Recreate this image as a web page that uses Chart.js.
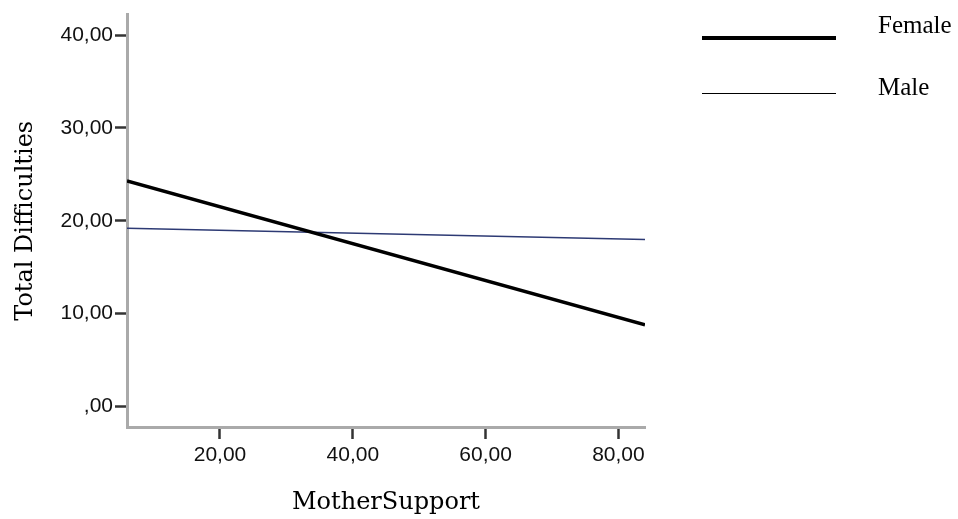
<!DOCTYPE html>
<html>
<head>
<meta charset="utf-8">
<script src="https://cdn.jsdelivr.net/npm/chart.js@4"></script>
<style>
  html, body { margin: 0; padding: 0; background: #fff; }
  #wrap { width: 958px; height: 519px; }
</style>
</head>
<body>
<div id="wrap"><canvas id="chart" width="958" height="519"></canvas></div>
<script>
// ================= DATA =================
var motherSupport = [6, 84];
var femaleData = [24.3, 8.8];
var maleData = [19.2, 18.0];
var xTicks = [20, 40, 60, 80];
var yTicks = [0, 10, 20, 30, 40];

// ================= FORMAT "40,00" / ",00" =================
function komma(v) {
  var s = v.toFixed(2).replace(".", ",");
  if (s.indexOf("0,") === 0) s = s.slice(1);
  return s;
}

// ================= LEGEND (drawn on canvas) =================
var legendPlugin = {
  id: "spssLegend",
  afterDraw: function (chart) {
    var ctx = chart.ctx;
    var rows = [
      { y: 38, text: 26, width: 4, color: "#000" },
      { y: 93.5, text: 88, width: 1, color: "#000" }
    ];
    ctx.save();
    chart.data.datasets.forEach(function (ds, i) {
      var r = rows[i];
      ctx.strokeStyle = r.color;
      ctx.lineWidth = r.width;
      ctx.beginPath();
      ctx.moveTo(702, r.y);
      ctx.lineTo(836, r.y);
      ctx.stroke();
      ctx.fillStyle = "#000";
      ctx.font = "25px 'Liberation Serif'";
      ctx.textBaseline = "middle";
      ctx.textAlign = "left";
      ctx.fillText(ds.label, 878, r.text);
    });
    ctx.restore();
  }
};

// ================= CHART =================
var ctx = document.getElementById("chart").getContext("2d");
var chart = new Chart(ctx, {
  type: "line",
  data: {
    datasets: [{
      label: "Female",
      data: motherSupport.map(function (x, i) { return { x: x, y: femaleData[i] }; }),
      borderColor: "#000",
      borderWidth: 3.5,
      pointRadius: 0,
      tension: 0
    }, {
      label: "Male",
      data: motherSupport.map(function (x, i) { return { x: x, y: maleData[i] }; }),
      borderColor: "#2d3a74",
      borderWidth: 1.5,
      pointRadius: 0,
      tension: 0
    }]
  },
  options: {
    responsive: false,
    animation: false,
    layout: { padding: { top: 12, right: 313, left: 0, bottom: 0 } },
    plugins: {
      legend: { display: false },
      tooltip: { enabled: false }
    },
    scales: {
      x: {
        type: "linear",
        min: motherSupport[0],
        max: motherSupport[1],
        afterBuildTicks: function (s) { s.ticks = xTicks.map(function (v) { return { value: v }; }); },
        afterFit: function (s) { s.height = 92; },
        grid: { drawOnChartArea: false, drawTicks: true, tickLength: 12, tickColor: "#333", tickWidth: 2.5 },
        border: { display: true, color: "#aaa", width: 3 },
        ticks: {
          callback: komma,
          padding: 4,
          color: "#111",
          maxRotation: 0,
          font: { family: "'Liberation Sans'", size: 21 }
        },
        title: {
          display: true,
          text: "MotherSupport",
          color: "#000",
          padding: { top: 0, bottom: 2 },
          font: { family: "'DejaVu Serif'", size: 24 }
        }
      },
      y: {
        min: -2.2,
        max: 42.2,
        afterBuildTicks: function (s) { s.ticks = yTicks.map(function (v) { return { value: v }; }); },
        afterFit: function (s) { s.width = 127; },
        grid: { drawOnChartArea: false, drawTicks: true, tickLength: 12, tickColor: "#333", tickWidth: 2.5 },
        border: { display: true, color: "#aaa", width: 3 },
        ticks: {
          callback: komma,
          padding: 2,
          color: "#111",
          font: { family: "'Liberation Sans'", size: 21 }
        },
        title: {
          display: true,
          text: "Total Difficulties",
          color: "#000",
          padding: { top: 11, bottom: 0 },
          font: { family: "'DejaVu Serif'", size: 24 }
        }
      }
    }
  },
  plugins: [legendPlugin]
});
</script>
</body>
</html>
